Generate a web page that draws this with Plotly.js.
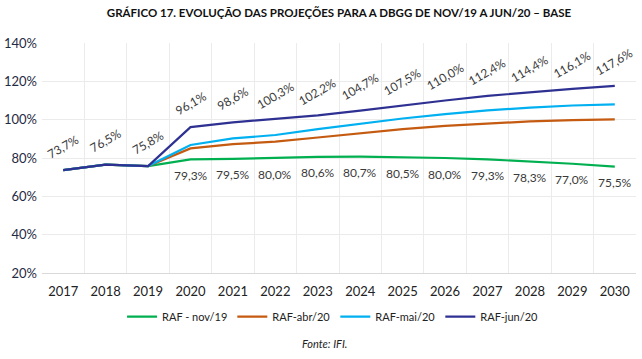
<!DOCTYPE html>
<html><head><meta charset="utf-8">
<script src="https://cdn.plot.ly/plotly-3.0.1.min.js"></script>
<style>body{margin:0;background:#fff}#chart{width:642px;height:359px}</style>
</head><body><div id="chart"></div>
<script>
const years = [2017,2018,2019,2020,2021,2022,2023,2024,2025,2026,2027,2028,2029,2030];
const rafNov19 = [73.7,76.5,75.8,79.3,79.5,80.0,80.6,80.7,80.5,80.0,79.3,78.3,77.0,75.5];
const rafAbr20 = [73.7,76.5,75.8,85.0,87.2,88.5,90.7,93.0,95.1,96.8,98.1,99.1,99.8,100.2];
const rafMai20 = [73.7,76.5,75.8,86.8,90.2,92.0,95.1,98.0,100.6,102.9,104.8,106.3,107.4,108.0];
const rafJun20 = [73.7,76.5,75.8,96.1,98.6,100.3,102.2,104.7,107.5,110.0,112.4,114.4,116.1,117.6];
const seriesNames = ['RAF - nov/19','RAF-abr/20','RAF-mai/20','RAF-jun/20'];
const seriesColors = ['#00b050','#c55a11','#00b0f0','#2e3192'];
const seriesData = [rafNov19, rafAbr20, rafMai20, rafJun20];

const fmt = v => v.toFixed(1).replace('.', ',') + '%';
const labelFont = {family:'Lato, sans-serif', size:12, color:'#3a3a3a'};

const traces = seriesData.map((d,i)=>({
  x: years, y: d, type:'scatter', mode:'lines', name: seriesNames[i],
  line:{color: seriesColors[i], width:2.2}, hoverinfo:'skip'
}));

const annotations = [];
years.forEach((yr,i)=>{
  annotations.push({x: yr, y: rafJun20[i], xref:'x', yref:'y', text: fmt(rafJun20[i]),
    showarrow:false, textangle:-30, yshift:24, font: labelFont});
  if (i >= 3) {
    annotations.push({x: yr, y: rafNov19[i], xref:'x', yref:'y', text: fmt(rafNov19[i]),
      showarrow:false, yshift:-16, font: labelFont});
  }
});
annotations.push({text:'<i>Fonte: IFI.</i>', xref:'paper', yref:'paper', x:0.475, y:-0.305, xanchor:'center', yanchor:'middle',
  showarrow:false, font:{family:'Lato, sans-serif', size:11, color:'#222'}});

const layout = {
  width:642, height:359,
  margin:{l:42, r:6, t:43, b:86},
  paper_bgcolor:'#fff', plot_bgcolor:'#fff',
  title:{text:'<b>GRÁFICO 17. EVOLUÇÃO DAS PROJEÇÕES PARA A DBGG DE NOV/19 A JUN/20 – BASE</b>',
    x:0.5, xref:'paper', xanchor:'center', y:0.965, yanchor:'middle',
    font:{family:'Lato, sans-serif', size:11.5, color:'#111'}},
  xaxis:{type:'linear', range:[2016.5, 2030.5], tickvals: years, ticktext: years.map(String),
    showgrid:false, showline:true, linecolor:'#d9d9d9', linewidth:1, ticks:'',
    ticklabelstandoff:6,
    tickfont:{family:'Lato, sans-serif', size:13, color:'#222'},
    minor:{tick0:2016.5, dtick:1, showgrid:true, gridcolor:'#ebebeb', gridwidth:1, ticks:''}, zeroline:false},
  yaxis:{range:[20,140], dtick:20, ticksuffix:'%', showgrid:true, gridcolor:'#ebebeb', gridwidth:1,
    zeroline:false, showline:false, ticks:'', ticklabelstandoff:4,
    tickfont:{family:'Lato, sans-serif', size:13, color:'#1f2a44'}},
  legend:{orientation:'h', x:0.49, xanchor:'center', y:-0.19, yanchor:'middle',
    font:{family:'Lato, sans-serif', size:11, color:'#222'}, traceorder:'normal', itemwidth:30},
  showlegend:true,
  annotations: annotations
};
Plotly.newPlot('chart', traces, layout, {displayModeBar:false, staticPlot:true});
</script></body></html>
